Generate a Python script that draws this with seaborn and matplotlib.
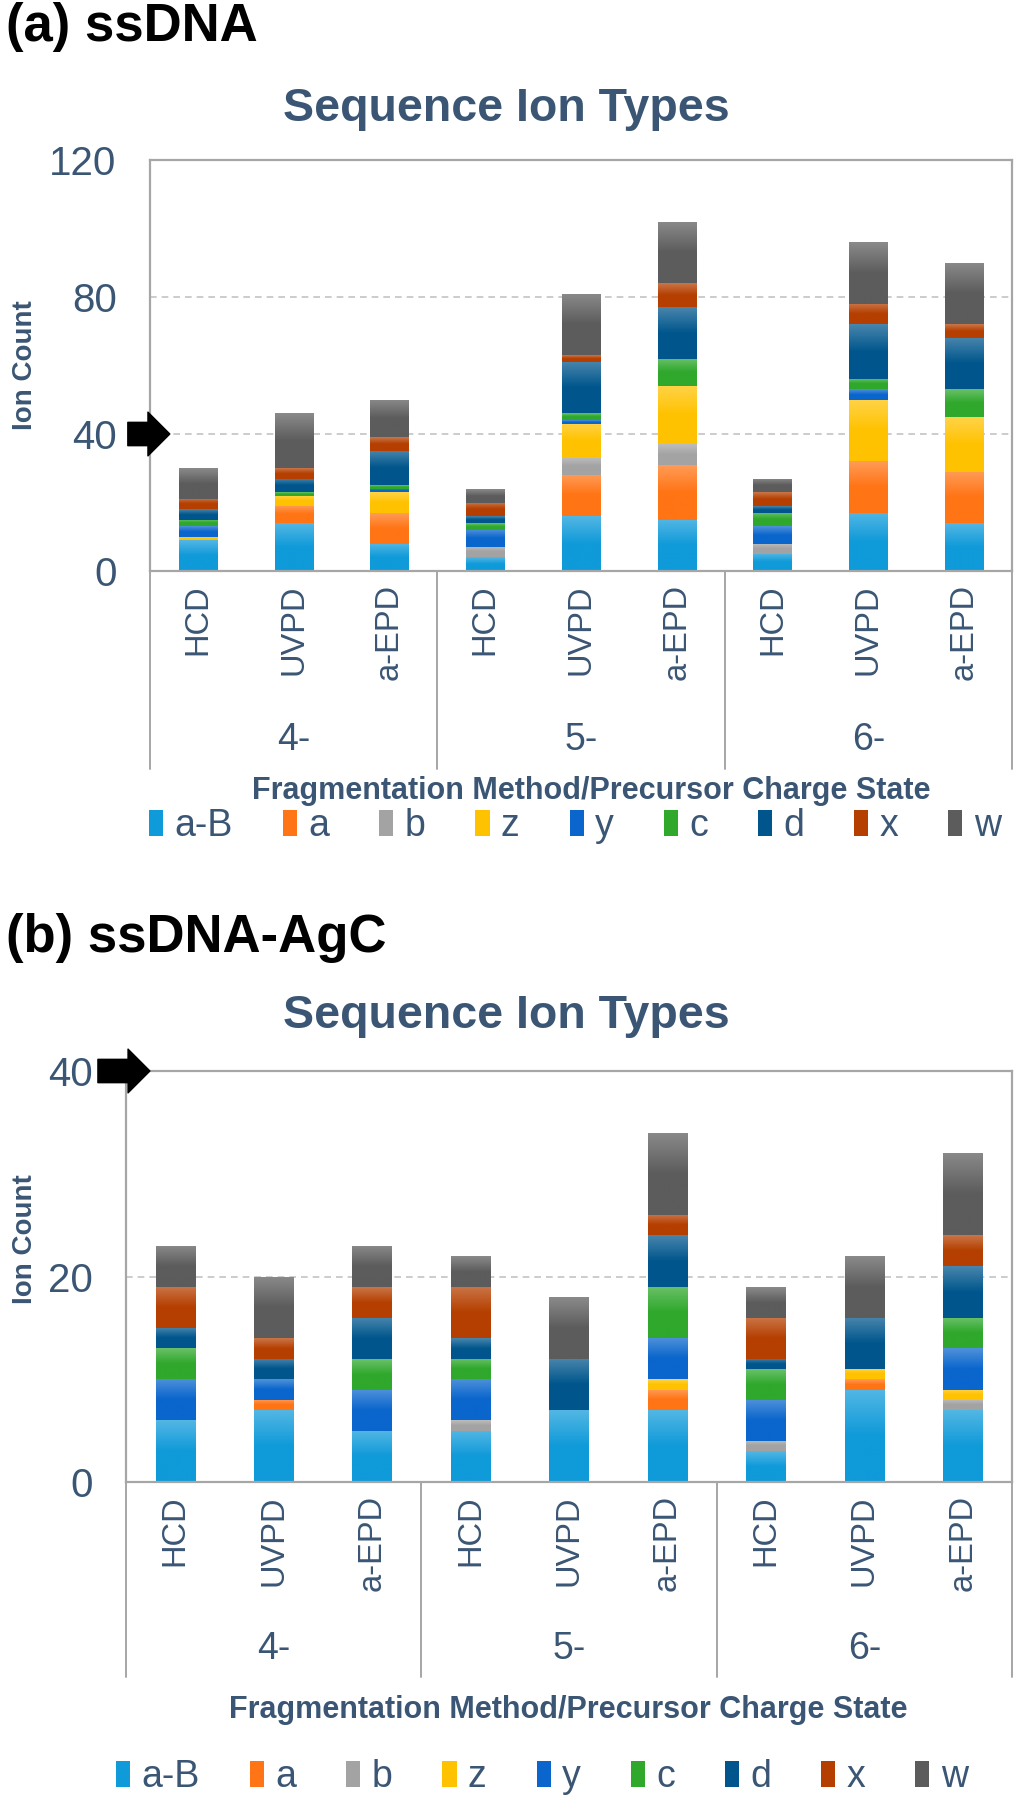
import numpy as np
import matplotlib

matplotlib.use("Agg")
import matplotlib.pyplot as plt
import matplotlib.transforms as mtransforms
from matplotlib.colors import LinearSegmentedColormap, to_rgb
from matplotlib.patches import Patch, Rectangle
import seaborn as sns

# --- data ---
methods = ["HCD", "UVPD", "a-EPD"]
charges = ["4-", "5-", "6-"]
ions = ["a-B", "a", "b", "z", "y", "c", "d", "x", "w"]

# bar order: 4-HCD, 4-UVPD, 4-aEPD, 5-HCD, 5-UVPD, 5-aEPD, 6-HCD, 6-UVPD, 6-aEPD
ssdna_aB = [9, 14, 8, 4, 16, 15, 5, 17, 14]
ssdna_a = [0, 5, 9, 0, 12, 16, 0, 15, 15]
ssdna_b = [0, 0, 0, 3, 5, 6, 3, 0, 0]
ssdna_z = [1, 3, 6, 0, 10, 17, 0, 18, 16]
ssdna_y = [3, 0, 1, 5, 1, 0, 5, 3, 0]
ssdna_c = [2, 1, 1, 2, 2, 8, 4, 3, 8]
ssdna_d = [3, 4, 10, 2, 15, 15, 2, 16, 15]
ssdna_x = [3, 3, 4, 4, 2, 7, 4, 6, 4]
ssdna_w = [9, 16, 11, 4, 18, 18, 4, 18, 18]

agc_aB = [6, 7, 5, 5, 7, 7, 3, 9, 7]
agc_a = [0, 1, 0, 0, 0, 2, 0, 1, 0]
agc_b = [0, 0, 0, 1, 0, 0, 1, 0, 1]
agc_z = [0, 0, 0, 0, 0, 1, 0, 1, 1]
agc_y = [4, 2, 4, 4, 0, 4, 4, 0, 4]
agc_c = [3, 0, 3, 2, 0, 5, 3, 0, 3]
agc_d = [2, 2, 4, 2, 5, 5, 1, 5, 5]
agc_x = [4, 2, 3, 5, 0, 2, 4, 0, 3]
agc_w = [4, 6, 4, 3, 6, 8, 3, 6, 8]

ssdna = dict(zip(ions, [ssdna_aB, ssdna_a, ssdna_b, ssdna_z, ssdna_y,
                        ssdna_c, ssdna_d, ssdna_x, ssdna_w]))
agc = dict(zip(ions, [agc_aB, agc_a, agc_b, agc_z, agc_y,
                      agc_c, agc_d, agc_x, agc_w]))

colors = {
    "a-B": "#0f9ad9", "a": "#ff7414", "b": "#a3a3a3", "z": "#ffc200",
    "y": "#0a66cc", "c": "#2fa82c", "d": "#00568c", "x": "#b53f00",
    "w": "#5c5c5c",
}
TXT = "#3a5674"
FRAME = "#a6a6a6"

sns.set_style("white")
plt.rcParams["font.family"] = ["Liberation Sans", "DejaVu Sans"]

W, H = 1020, 1800
fig = plt.figure(figsize=(W / 100, H / 100), dpi=100)


def fy(px):
    return 1 - px / H


def shade_bars(ax):
    # Excel-style soft vertical gradient: lighter at the top of each segment
    grad = np.linspace(0, 1, 64).reshape(-1, 1)
    for p in list(ax.patches):
        if not isinstance(p, Rectangle) or p.get_height() <= 0:
            continue
        base = np.array(to_rgb(p.get_facecolor()))
        light = base + (1 - base) * 0.28
        cmap = LinearSegmentedColormap.from_list("g", [base, base, light])
        x0, y0 = p.get_x(), p.get_y()
        im = ax.imshow(grad, extent=[x0, x0 + p.get_width(), y0, y0 + p.get_height()],
                       origin="lower", aspect="auto", cmap=cmap, zorder=p.get_zorder() + 0.1,
                       interpolation="bilinear")
        im.set_clip_path(p)


def draw_panel(ax, values, ymax, ystep, geo):
    cats = [f"{c} {m}" for c in charges for m in methods]
    bottom = np.zeros(len(cats))
    for ion in ions:
        vals = np.array(values[ion], dtype=float)
        sns.barplot(x=cats, y=vals, order=cats, bottom=bottom.copy(),
                    color=colors[ion], saturation=1, width=0.4,
                    errorbar=None, linewidth=0, ax=ax)
        bottom += vals
    shade_bars(ax)

    ax.set_xlim(-0.5, len(cats) - 0.5)
    ax.set_ylim(0, ymax)
    ax.set_yticks(np.arange(0, ymax + 1, ystep))
    ax.set_xticks([])
    ax.set_xlabel("")
    ax.set_ylabel("")
    ax.yaxis.grid(True, linestyle=(0, (4, 3)), color="#c4c4c4", lw=1.2)
    ax.set_axisbelow(True)
    for s in ax.spines.values():
        s.set_visible(True)
        s.set_color(FRAME)
        s.set_linewidth(1.6)
    ax.tick_params(axis="y", length=0, pad=24, labelsize=29, labelcolor=TXT)

    # multi-level category axis
    trans = mtransforms.blended_transform_factory(ax.transData, ax.transAxes)
    h = geo["height"]
    for i, cat in enumerate(cats):
        ax.text(i, -13 / h, cat.split(" ")[1], rotation=90, ha="center",
                va="top", fontsize=23.5, color=TXT, transform=trans)
    for xs in [-0.5, 2.5, 5.5, 8.5]:
        ax.plot([xs, xs], [0, -geo["sep"] / h], color=FRAME, lw=1.4,
                transform=trans, clip_on=False)
    for g, ch in enumerate(charges):
        ax.text(3 * g + 1, -geo["group"] / h, ch, ha="center", va="center",
                fontsize=27, color=TXT, transform=trans)

    # marker arrow at y = 40
    tr_arrow = mtransforms.blended_transform_factory(ax.transAxes, ax.transData)
    ax.annotate("", xy=(geo["tip"], 40), xycoords=tr_arrow,
                xytext=(-geo["alen"], 0), textcoords="offset pixels",
                arrowprops=dict(arrowstyle="simple,head_length=0.75,head_width=1.5,tail_width=0.8",
                                fc="black", ec="black", mutation_scale=21,
                                shrinkA=0, shrinkB=0),
                annotation_clip=False)
    # striped end of the arrow tail
    for k in range(3):
        ax.plot([geo["tip"], geo["tip"]], [40 - 0.028 * ymax, 40 + 0.028 * ymax],
                color="white", lw=1.2, clip_on=False,
                transform=mtransforms.offset_copy(tr_arrow, fig=fig,
                                                  x=-geo["alen"] + 3 + 3 * k, y=0, units="dots"))


geo_a = dict(left=150, top=160, bottom=571, sep=198, group=169, tip=0.023, alen=42)
geo_b = dict(left=126, top=1071, bottom=1482, sep=195, group=167, tip=0.027, alen=52)
for g in (geo_a, geo_b):
    g["height"] = g["bottom"] - g["top"]

ax_a = fig.add_axes([geo_a["left"] / W, fy(geo_a["bottom"]),
                     (1012 - geo_a["left"]) / W, geo_a["height"] / H])
ax_b = fig.add_axes([geo_b["left"] / W, fy(geo_b["bottom"]),
                     (1012 - geo_b["left"]) / W, geo_b["height"] / H])

draw_panel(ax_a, ssdna, 120, 40, geo_a)
draw_panel(ax_b, agc, 40, 20, geo_b)

# --- figure-level text ---
fig.text(6 / W, fy(27), "(a) ssDNA", fontsize=38, fontweight="bold", color="black", va="center")
fig.text(6 / W, fy(938), "(b) ssDNA-AgC", fontsize=38, fontweight="bold", color="black", va="center")
for y in (109, 1016):
    fig.text(506 / W, fy(y), "Sequence Ion Types", fontsize=33.5, fontweight="bold",
             color=TXT, ha="center", va="center")
for y in (365, 1239):
    fig.text(25 / W, fy(y), "Ion Count", fontsize=20, fontweight="bold", color=TXT,
             rotation=90, ha="center", va="center")
for x, y in ((591, 791), (568, 1710)):
    fig.text(x / W, fy(y), "Fragmentation Method/Precursor Charge State", fontsize=22,
             fontweight="bold", color=TXT, ha="center", va="center")

handles = [Patch(facecolor=colors[i], edgecolor="none", label=i) for i in ions]
for x, y in ((575, 826), (542, 1777)):
    fig.legend(handles=handles, ncol=9, loc="center", bbox_to_anchor=(x / W, fy(y)),
               frameon=False, fontsize=27, handlelength=0.38, handleheight=0.7,
               handletextpad=0.3, columnspacing=1.33, labelcolor=TXT, borderpad=0)

fig.savefig("out.png", dpi=100)
